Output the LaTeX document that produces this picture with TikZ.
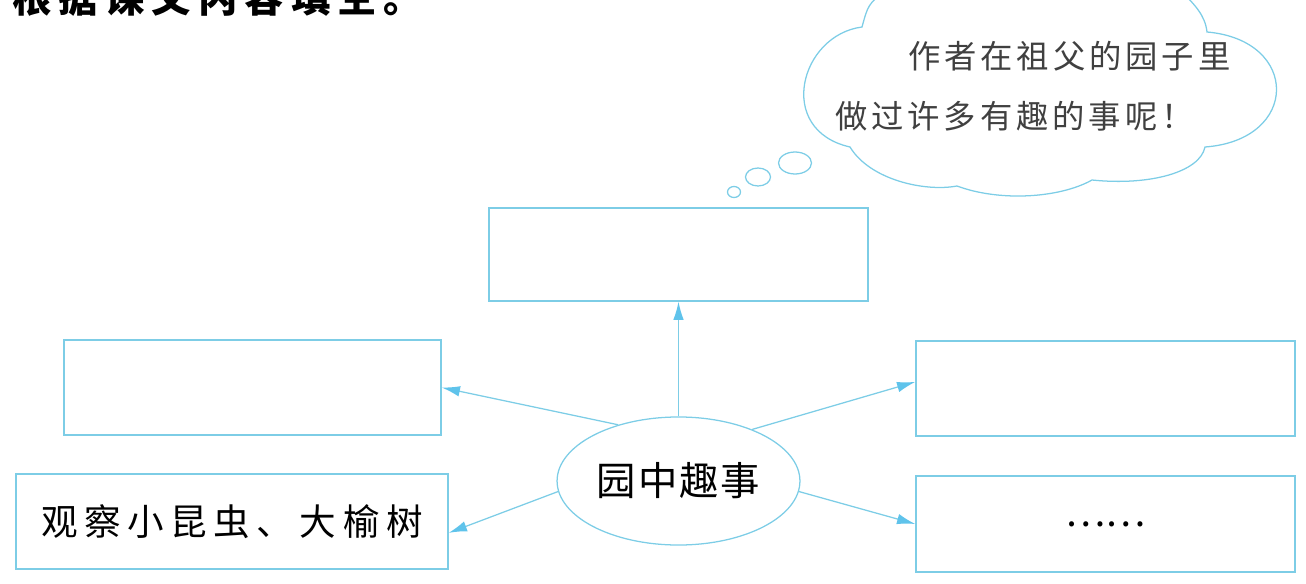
\documentclass[tikz,border=0pt]{standalone}
\usepackage{fontspec}
\usepackage{tikz}
\usetikzlibrary{
    arrows.meta,
    positioning,
    shapes.geometric
}
\newfontfamily\cjk{Noto Sans CJK SC}
\newfontfamily\cjkwide[LetterSpace=18]{Noto Sans CJK SC}
\newfontfamily\cjkmid[LetterSpace=12]{Noto Sans CJK SC}
\newfontfamily\cjknarrow[LetterSpace=5]{Noto Sans CJK SC}
\definecolor{linecyan}{RGB}{125,205,230}
\definecolor{tipcyan}{RGB}{95,195,235}

\begin{document}
\begin{tikzpicture}[
x=0.025cm, y=-0.025cm,
box/.style={
draw=linecyan,
line width=0.9pt,
minimum height=2.37cm,
inner sep=0pt,
align=center
},
hubnode/.style={
draw=linecyan,
line width=0.9pt,
ellipse,
minimum width=6.07cm,
minimum height=3.2cm,
inner sep=0pt,
font=\cjknarrow\fontsize{28}{30}\selectfont
},
arr/.style={
draw=linecyan,
line width=0.9pt,
-{Latex[length=13pt,width=7.5pt,color=tipcyan]}
},
bubble/.style={
draw=linecyan,
line width=0.9pt
}
]

\path[use as bounding box, clip] (0,0) rectangle (1306,584);

% heading, cut off at the top edge
\node[anchor=base west, inner sep=0pt,
font=\cjkwide\bfseries\fontsize{28}{30}\selectfont] (head) at (12,13)
{根据课文内容填空。};

% thought cloud
\draw[bubble] (885,-10) .. controls (868,5) .. (862,27)
.. controls (800,35) and (775,130) .. (850,147)
.. controls (870,180) and (925,192) .. (957,186)
.. controls (1000,202) and (1060,198) .. (1092,180)
.. controls (1150,186) and (1200,172) .. (1205,147)
.. controls (1300,140) and (1300,40) .. (1207,32)
.. controls (1205,15) and (1195,5) .. (1180,-10);
\draw[bubble] (795,163) ellipse [x radius=16.5, y radius=11];
\draw[bubble] (758,177) ellipse [x radius=12.5, y radius=9];
\draw[bubble] (734,192) ellipse [x radius=6.5, y radius=5.5];

\node[anchor=north west, inner sep=0pt, align=left, text=black!75,
font=\cjkmid\fontsize{23}{42.5}\selectfont] (note) at (835,41)
{\hspace*{51.9pt}作者在祖父的园子里\\做过许多有趣的事呢！};

% centre and boxes
\node[hubnode] (hub) at (678.5,481) {园中趣事};

\node[box, minimum width=9.475cm, minimum height=2.325cm] (top) at (678.5,254.5) {};
\node[box, minimum width=9.425cm] (leftup) at (252.5,387.5) {};
\node[box, minimum width=9.475cm] (rightup) at (1105.5,388.5) {};
\node[box, minimum width=10.8cm,
font=\cjkwide\fontsize{26}{30}\selectfont] (leftdown) at (232,521.5)
{观察小昆虫、大榆树};
\node[box, minimum width=9.475cm, minimum height=2.4cm,
font=\cjk\fontsize{27}{30}\selectfont] (rightdown) at (1105.5,524)
{\raisebox{-2.5pt}{……}};

\draw[arr] (hub.north) -- (top.south);
\draw[arr] (hub.137.7) -- (leftup.east);
\draw[arr] (hub.35.8) -- (rightup.178);
\draw[arr] (hub.185.2) -- (leftdown.-3.6);
\draw[arr] (hub.-5.2) -- (rightdown.west);

\end{tikzpicture}
\end{document}
